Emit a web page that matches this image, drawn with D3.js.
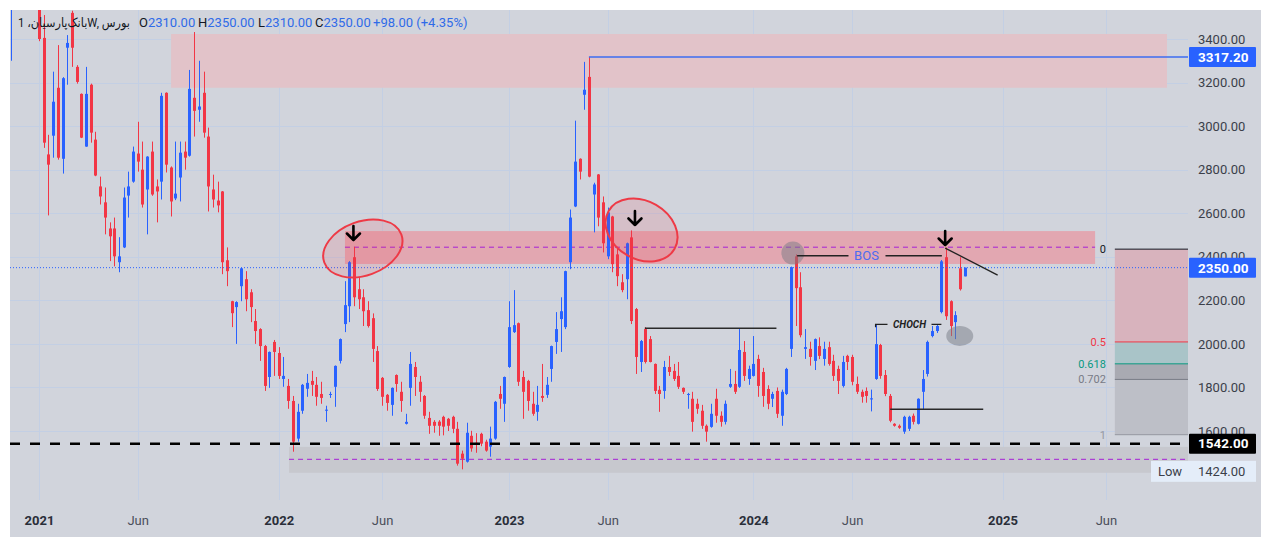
<!DOCTYPE html>
<html><head><meta charset="utf-8">
<script src="https://cdn.jsdelivr.net/npm/d3@7"></script>
<style>
html,body{margin:0;padding:0;background:#fff;}
svg{display:block;font-family:Roboto,"DejaVu Sans",sans-serif;}
text{white-space:pre;}
</style></head><body>
<svg id="chart" width="1271" height="548"></svg>
<script>
// ---------- DATA (weekly candles, index 0 = first bar) ----------
const opens = [
3560,3650,3760,3850,3780,3700,3600,3405,2870,2956, //0
3176,2850,3360,3520,3272,3148,2906,3190,2938,2723, //10
2650,2530,2530,2375,2443,2681,2745,2874,2800,2709, //20
2883,2723,2745,3153,2810,2668,2764,2883,2864,3130, //30
3075,3153,2952,2709,2658,2700,2384,2196,2169,2265, //40
2297,2237,2105,2068,1990,1848,2009,1958,1839,1807, //50
1738,1565,1693,1794,1830,1812,1770,1693,1766,1803, //60
1922,2091,2173,2398,2251,2214,2155,2118,1967,1844, //70
1766,1720,1857,1780,1633,1798,1894,1826,1761,1660, //80
1642,1643,1665,1656,1665,1610,1496,1459,1578,1546, //90
1587,1551,1528,1565,1770,1725,1894,2054,2095,1848, //100
1830,1725,1688,1761,1766,1885,2009,2114,2077,2375, //110
2631,2850,3144,3226,2686,2778,2650,2402,2585,2411, //120
2283,2297,2489,2160,1917,2068,2022,1908,1789,1784, //130
1894,1876,1853,1798,1766,1748,1725,1693,1624,1619, //140
1748,1670,1642,1803,1816,1803,1963,1839,1853,1931, //150
1871,1793,1748,1784,1670,1770,1977,2402,2260,1977, //160
1977,1922,1990,1931,1985,1922,1885,1807,1945,1940, //170
1816,1780,1784,1745,1839,1995,1857,1761,1633,1624, //180
1597,1610,1670,1633,1780,1862,2036,2059,2146,2398, //190
2196,2100,2347,2310                                //200
];
const highs = [
3700,3800,3900,3950,3850,3750,3650,3510,2960,3250,
3372,3225,3418,3530,3280,3150,3272,3195,2974,2768,
2718,2558,2580,2490,2718,2791,2906,3020,2929,2862,
2929,2755,3153,3155,2815,2929,2929,2929,3258,3432,
3300,3250,2993,2777,2745,2702,2443,2198,2196,2350,
2334,2251,2160,2072,1995,1965,2018,1985,1940,1839,
1761,1725,1816,1862,1876,1848,1826,1716,1780,1901,
2025,2288,2380,2446,2306,2251,2196,2140,1990,1848,
1770,1800,1860,1826,1679,1963,1917,1853,1765,1688,
1650,1650,1670,1660,1670,1642,1510,1638,1601,1590,
1592,1560,1620,1738,1807,1850,2196,2247,2098,1876,
1835,1780,1807,1908,1848,1992,2146,2214,2336,2617,
3025,2852,3295,3317.2,2740,2780,2677,2626,2588,2443,
2320,2465,2521,2165,2018,2077,2036,1910,1807,1922,
1945,1908,1917,1800,1775,1780,1748,1720,1630,1725,
1794,1690,1740,1885,1876,2068,2013,1900,2036,1950,
1890,1810,1780,1800,1790,1890,2355,2411,2329,2068,
2010,2025,2030,2010,2010,1950,1900,1945,1950,1950,
1850,1790,1800,1790,2091,2000,1880,1770,1636,1630,
1670,1670,1680,1750,1880,2015,2082,2090,2385,2443,
2200,2150,2398,2350
];
const lows = [
3300,3580,3700,3720,3620,3580,3390,2900,2590,2855,
2846,2782,3190,3272,3195,2945,2905,2924,2770,2640,
2503,2380,2356,2329,2440,2580,2740,2791,2626,2503,
2680,2558,2663,2787,2585,2660,2654,2800,2860,2952,
3020,2947,2608,2626,2604,2320,2265,2077,2000,2196,
2150,2100,2000,1922,1784,1798,1853,1839,1803,1702,
1505,1551,1679,1757,1761,1716,1725,1642,1752,1711,
1910,2054,2100,2173,2160,2082,2075,1917,1784,1716,
1693,1670,1780,1688,1630,1716,1761,1734,1656,1587,
1592,1578,1580,1600,1590,1441,1424,1455,1505,1500,
1530,1505,1482,1560,1702,1642,1890,2050,1807,1656,
1693,1670,1647,1734,1752,1826,1954,1963,2068,2343,
2628,2755,3075,2765,2512,2540,2420,2389,2329,2265,
2237,2205,2091,1862,1871,1910,1915,1770,1688,1748,
1853,1830,1793,1770,1702,1597,1679,1610,1551,1615,
1638,1620,1630,1798,1770,1798,1830,1812,1850,1757,
1711,1700,1710,1660,1624,1765,1940,2082,2030,1931,
1900,1880,1930,1900,1900,1830,1770,1800,1880,1810,
1770,1730,1730,1690,1835,1840,1760,1640,1620,1610,
1587,1600,1630,1630,1700,1850,2030,2050,2140,2110,
2036,2022,2245,2310
];
const closes = [
3650,3760,3850,3780,3700,3600,3400,2924,2823,3112,
2855,3220,3382,3360,3203,2947,3148,2970,2773,2677,
2580,2494,2402,2402,2672,2723,2883,2837,2640,2860,
2686,2700,3139,2823,2654,2690,2878,2855,3171,3070,
3090,2970,2723,2663,2636,2375,2334,2141,2192,2347,
2205,2169,2059,1990,1807,1963,1963,1853,1853,1738,
1551,1688,1812,1821,1812,1757,1752,1698,1770,1899,
2022,2178,2375,2214,2205,2150,2082,1977,1793,1757,
1729,1798,1816,1738,1642,1908,1848,1780,1670,1624,
1624,1624,1620,1624,1610,1450,1473,1592,1520,1537,
1542,1510,1565,1734,1748,1848,2077,2086,1826,1780,
1738,1679,1720,1752,1812,1990,2068,2150,2334,2580,
2837,2791,3167,2768,2732,2580,2462,2604,2366,2311,
2247,2462,2105,1940,2013,1917,1917,1784,1770,1894,
1871,1839,1803,1780,1770,1642,1702,1624,1597,1679,
1670,1642,1725,1816,1780,1972,1853,1885,1908,1807,
1761,1725,1770,1679,1780,1885,2352,2256,2040,1985,
1940,2022,1945,1977,1908,1853,1830,1917,1917,1826,
1780,1757,1761,1750,1999,1853,1770,1647,1624,1615,
1665,1665,1642,1748,1839,2009,2059,2082,2379,2127,
2082,2132,2251,2350
];
const timeTickIndex  = [6, 27, 57, 79, 106, 127, 158, 179, 211, 233];
const timeTickLabels = ["2021","Jun","2022","Jun","2023","Jun","2024","Jun","2025","Jun"];
const priceTicks = [1600,1800,2000,2200,2400,2600,2800,3000,3200,3400];

// annotations (bar index / price)
const zoneTop    = {i0: 34.1, p0: 3423, p1: 3176};
const zoneMid    = {i0: 71.1, i1: 230.7, p0: 2518, p1: 2367, dash: 2444};
const zoneLow    = {i0: 59.2, p0: 1527, p1: 1408, dash: 1470};
const athLine    = {i0: 123, price: 3317.2};
const lastPrice  = 2350;
const supportLvl = 1542;
const lowPrice   = 1424;
const ellipses   = [{i: 74.9, p: 2438, a: 41, b: 27, rot: -20}, {i: 134.2, p: 2523, a: 38, b: 29, rot: 30}];
const arrows     = [{i: 72.9, p: 2477}, {i: 132.8, p: 2546}, {i: 198.8, p: 2454}];
const greyDots   = [{i: 166.4, p: 2417, a: 11.5, b: 11.5}, {i: 201.9, p: 2036, a: 13.5, b: 10}];
const bos        = {i0: 167.3, i1: 198.1, p: 2405};
const choch      = {i0: 184, i1: 198, p: 2090};
const hLines     = [{i0: 134.9, i1: 162.9, p: 2072}, {i0: 187.1, i1: 206.9, p: 1700}];
const trend      = {i0: 198.8, p0: 2440, i1: 209.97, p1: 2316};
const fibHigh = 2435, fibLow = 1583, fibI0 = 234.9;
const fibLevels = [0, 0.5, 0.618, 0.702, 1];

// ---------- LAYOUT ----------
const svg = d3.select("#chart");
const PX0 = 10, PY0 = 10, PX1 = 1261, PY1 = 537; // panel
const plotR = 1188, plotB = 500;
const x = d3.scaleLinear().domain([0, 100]).range([10.8, 10.8 + 470]);
const y = d3.scaleLinear().domain([1600, 3400]).range([431, 39]);

const RED = "#f23645", BLUE = "#2962ff";

svg.append("rect").attr("x",PX0).attr("y",PY0).attr("width",PX1-PX0).attr("height",PY1-PY0).attr("fill","#d1d4dc");

svg.append("defs").append("clipPath").attr("id","plotclip")
  .append("rect").attr("x",PX0).attr("y",PY0).attr("width",plotR-PX0).attr("height",plotB-PY0);

// grid
const grid = svg.append("g");
grid.selectAll(".hg").data(priceTicks).join("line")
  .attr("x1",PX0).attr("x2",plotR).attr("y1",d=>Math.round(y(d))+0.5).attr("y2",d=>Math.round(y(d))+0.5)
  .attr("stroke","#c3cfe4").attr("stroke-width",1);
grid.selectAll(".vg").data(timeTickIndex).join("line")
  .attr("x1",d=>Math.round(x(d))+0.5).attr("x2",d=>Math.round(x(d))+0.5).attr("y1",PY0).attr("y2",plotB)
  .attr("stroke","#c3cfe4").attr("stroke-width",1);

const plot = svg.append("g").attr("clip-path","url(#plotclip)");

// zones
plot.append("rect").attr("x",x(zoneTop.i0)).attr("y",y(zoneTop.p0))
  .attr("width",1167-x(zoneTop.i0)).attr("height",y(zoneTop.p1)-y(zoneTop.p0)).attr("fill","#e2c3c9");
plot.append("rect").attr("x",x(zoneMid.i0)).attr("y",y(zoneMid.p0))
  .attr("width",x(zoneMid.i1)-x(zoneMid.i0)).attr("height",y(zoneMid.p1)-y(zoneMid.p0)).attr("fill","#e2a7b1");
plot.append("rect").attr("x",x(zoneLow.i0)).attr("y",y(zoneLow.p0))
  .attr("width",plotR-x(zoneLow.i0)).attr("height",y(zoneLow.p1)-y(zoneLow.p0)).attr("fill","#c7c8ce");

// fib box
const fibP = l => fibHigh - l*(fibHigh-fibLow);
const fibFills = ["#d8b3bd","#a9c4c8","#a9aab2","#bdbfc7"];
for (let k=0;k<fibLevels.length-1;k++){
  plot.append("rect").attr("x",x(fibI0)).attr("y",y(fibP(fibLevels[k])))
    .attr("width",plotR-x(fibI0)).attr("height",y(fibP(fibLevels[k+1]))-y(fibP(fibLevels[k])))
    .attr("fill",fibFills[k]);
}
const fibColors = ["#131722", RED, "#089981", "#787b86", "#9598a1"];
fibLevels.forEach((l,k)=>{
  plot.append("line").attr("x1",x(fibI0)).attr("x2",plotR)
    .attr("y1",y(fibP(l))).attr("y2",y(fibP(l))).attr("stroke",fibColors[k]).attr("stroke-width",1);
  svg.append("text").attr("x",x(fibI0)-9).attr("y",y(fibP(l))).attr("dy","0.35em")
    .attr("text-anchor","end").attr("font-size",11).attr("fill",fibColors[k]).text(String(l));
});

// dashed lines
plot.append("line").attr("x1",x(zoneMid.i0)).attr("x2",x(zoneMid.i1))
  .attr("y1",y(zoneMid.dash)).attr("y2",y(zoneMid.dash))
  .attr("stroke","#a51fd6").attr("stroke-width",1).attr("stroke-dasharray","5,4");
plot.append("line").attr("x1",x(zoneLow.i0)).attr("x2",plotR)
  .attr("y1",y(zoneLow.dash)).attr("y2",y(zoneLow.dash))
  .attr("stroke","#a51fd6").attr("stroke-width",1).attr("stroke-dasharray","5,4");

// candles
const idx = d3.range(opens.length);
const cg = plot.append("g");
cg.selectAll(".wick").data(idx).join("line")
  .attr("x1",i=>Math.round(x(i))+0.5).attr("x2",i=>Math.round(x(i))+0.5)
  .attr("y1",i=>y(highs[i])).attr("y2",i=>y(lows[i]))
  .attr("stroke",i=>closes[i]>=opens[i]?BLUE:RED).attr("stroke-width",1);
cg.selectAll(".body").data(idx).join("rect")
  .attr("x",i=>Math.round(x(i))-1).attr("width",3)
  .attr("y",i=>y(Math.max(opens[i],closes[i])))
  .attr("height",i=>Math.max(1,Math.abs(y(opens[i])-y(closes[i]))))
  .attr("fill",i=>closes[i]>=opens[i]?BLUE:RED);

// price lines
plot.append("line").attr("x1",PX0).attr("x2",plotR).attr("y1",y(lastPrice)).attr("y2",y(lastPrice))
  .attr("stroke",BLUE).attr("stroke-width",1).attr("stroke-dasharray","1,2");
plot.append("line").attr("x1",x(athLine.i0)).attr("x2",plotR).attr("y1",y(athLine.price)).attr("y2",y(athLine.price))
  .attr("stroke","#3d6df0").attr("stroke-width",1.5);
plot.append("line").attr("x1",PX0).attr("x2",plotR).attr("y1",y(supportLvl)).attr("y2",y(supportLvl))
  .attr("stroke","#000").attr("stroke-width",2.5).attr("stroke-dasharray","10,10");

// ellipses
ellipses.forEach(e=>{
  plot.append("ellipse").attr("cx",x(e.i)).attr("cy",y(e.p)).attr("rx",e.a).attr("ry",e.b)
    .attr("transform",`rotate(${e.rot} ${x(e.i)} ${y(e.p)})`)
    .attr("fill","rgba(242,54,69,0.13)").attr("stroke","#ee3a46").attr("stroke-width",2);
});
// grey dots
greyDots.forEach(g=>{
  plot.append("ellipse").attr("cx",x(g.i)).attr("cy",y(g.p)).attr("rx",g.a).attr("ry",g.b)
    .attr("fill","rgba(120,123,134,0.5)");
});
// arrows
arrows.forEach(a=>{
  const ax=x(a.i), ty=y(a.p);
  plot.append("path").attr("d",`M${ax},${ty-14}L${ax},${ty}M${ax-6.5},${ty-6.5}L${ax},${ty}L${ax+6.5},${ty-6.5}`)
    .attr("fill","none").attr("stroke","#000").attr("stroke-width",2.6).attr("stroke-linecap","round").attr("stroke-linejoin","round");
});
// BOS
const bosMid = (x(bos.i0)+x(bos.i1))/2 - 3;
plot.append("path").attr("d",`M${x(bos.i0)},${y(bos.p)}H${bosMid-18}M${bosMid+19},${y(bos.p)}H${x(bos.i1)}`)
  .attr("stroke","#222").attr("stroke-width",1.5).attr("fill","none");
svg.append("text").attr("x",bosMid).attr("y",y(bos.p)).attr("dy","0.36em").attr("text-anchor","middle")
  .attr("font-size",13).attr("fill","#4d6bf0").text("BOS");
// CHOCH
const chMid = (x(choch.i0)+x(choch.i1))/2 + 1;
plot.append("path").attr("d",`M${x(choch.i0)},${y(choch.p)+3}V${y(choch.p)}H${chMid-22}M${chMid+22},${y(choch.p)}H${x(choch.i1)}`)
  .attr("stroke","#222").attr("stroke-width",1.3).attr("fill","none");
svg.append("text").attr("x",chMid).attr("y",y(choch.p)).attr("dy","0.36em").attr("text-anchor","middle")
  .attr("font-size",10).attr("font-weight","bold").attr("font-style","italic").attr("fill","#222").text("CHOCH");
// other lines
hLines.forEach(l=>{
  plot.append("line").attr("x1",x(l.i0)).attr("x2",x(l.i1)).attr("y1",y(l.p)).attr("y2",y(l.p))
    .attr("stroke","#2a2a2a").attr("stroke-width",1.4);
});
plot.append("line").attr("x1",x(trend.i0)).attr("y1",y(trend.p0)).attr("x2",x(trend.i1)).attr("y2",y(trend.p1))
  .attr("stroke","#222").attr("stroke-width",1.3);

// ---------- AXES ----------
const xAxis = d3.axisBottom(x).tickValues(timeTickIndex).tickFormat((d,k)=>timeTickLabels[k]).tickSize(0).tickPadding(3);
const gx = svg.append("g").attr("transform","translate(0,513)").call(xAxis);
gx.select(".domain").remove();
gx.selectAll("text").attr("font-size",13).attr("font-family","Roboto,sans-serif")
  .attr("fill",(d,k)=>timeTickLabels[k]==="Jun"?"#4a4e5a":"#2a2e39")
  .attr("font-weight",(d,k)=>timeTickLabels[k]==="Jun"?"normal":"bold");

const yAxis = d3.axisRight(y).tickValues(priceTicks).tickFormat(d3.format(".2f")).tickSize(0).tickPadding(10);
const gy = svg.append("g").attr("transform",`translate(${plotR},0)`).call(yAxis);
gy.select(".domain").remove();
gy.selectAll("text").attr("font-size",13).attr("font-family","Roboto,sans-serif").attr("fill","#3b3f4a");

// price labels
function priceBox(p, bg, fg, bold){
  const cy = y(p);
  svg.append("rect").attr("x",plotR+1).attr("y",cy-10).attr("width",67).attr("height",20).attr("fill",bg).attr("rx",1);
  svg.append("text").attr("x",plotR+10).attr("y",cy).attr("dy","0.36em").attr("font-size",13.5)
    .attr("font-weight",bold?"bold":"normal").attr("fill",fg).text(d3.format(".2f")(p));
}
priceBox(athLine.price, BLUE, "#fff", true);
priceBox(lastPrice, BLUE, "#fff", true);
priceBox(supportLvl, "#000", "#fff", true);
// Low label
{
  const cy = y(lowPrice)+2;
  svg.append("rect").attr("x",1151).attr("y",cy-10.5).attr("width",38).attr("height",21).attr("fill","#e4edf9");
  svg.append("text").attr("x",1170).attr("y",cy).attr("dy","0.36em").attr("text-anchor","middle")
    .attr("font-size",13).attr("fill","#3b3f4a").text("Low");
  svg.append("rect").attr("x",plotR+1).attr("y",cy-10.5).attr("width",67).attr("height",21).attr("fill","#e4edf9");
  svg.append("text").attr("x",plotR+10).attr("y",cy).attr("dy","0.36em")
    .attr("font-size",13).attr("fill","#3b3f4a").text(d3.format(".2f")(lowPrice));
}

// header
svg.append("text").attr("x",18).attr("y",27).attr("font-size",12.5).attr("fill","#131722")
  .attr("direction","ltr").attr("textLength",112).attr("lengthAdjust","spacingAndGlyphs")
  .attr("font-family","Roboto,'DejaVu Sans',sans-serif").text("بانک‌پارسیان، 1W, بورس");
const hdr = [["O","2310.00",139],["H","2350.00",198],["L","2310.00",258],["C","2350.00",315]];
hdr.forEach(h=>{
  const t = svg.append("text").attr("x",h[2]).attr("y",27).attr("font-size",13);
  t.append("tspan").attr("fill","#131722").text(h[0]);
  t.append("tspan").attr("fill","#2f6be8").text(h[1]);
});
svg.append("text").attr("x",373).attr("y",27).attr("font-size",13).attr("fill","#2f6be8").text("+98.00 (+4.35%)");
</script>
</body></html>
